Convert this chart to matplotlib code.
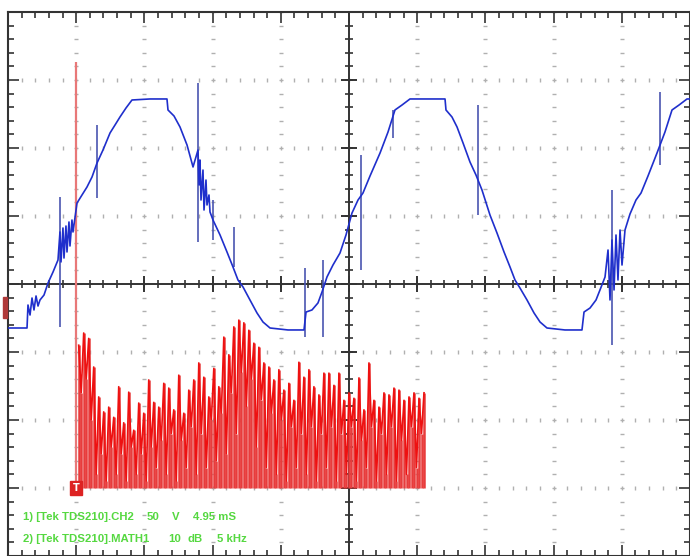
import numpy as np
import matplotlib
matplotlib.use('Agg')
import matplotlib.pyplot as plt
from matplotlib.patches import Rectangle

# CH2 trace, screen divisions (x: 0..10, y: -4..4)
ch2_x = [0.0, 0.279, 0.293, 0.323, 0.352, 0.381, 0.411, 0.440, 0.469, 0.528,
         0.587, 0.660, 0.733, 0.762, 0.777, 0.806, 0.821, 0.850, 0.865, 0.894,
         0.909, 0.938, 0.953, 1.012, 1.085, 1.158, 1.232, 1.305, 1.393, 1.496,
         1.569, 1.642, 1.730, 1.818, 2.082, 2.331, 2.346, 2.434, 2.522, 2.625,
         2.713, 2.786, 2.801, 2.815, 2.830, 2.859, 2.874, 2.903, 2.918, 2.947,
         2.962, 3.006, 3.109, 3.211, 3.299, 3.372, 3.446, 3.548, 3.651, 3.739,
         3.842, 4.106, 4.340, 4.370, 4.457, 4.545, 4.604, 4.677, 4.765, 4.868,
         4.956, 5.044, 5.132, 5.205, 5.308, 5.455, 5.572, 5.674, 5.777, 5.894,
         6.408, 6.422, 6.510, 6.584, 6.672, 6.774, 6.862, 6.950, 7.067, 7.170,
         7.273, 7.361, 7.434, 7.507, 7.610, 7.713, 7.801, 7.903, 8.167, 8.416,
         8.446, 8.534, 8.622, 8.680, 8.754, 8.798, 8.827, 8.856, 8.886, 8.915,
         8.944, 8.974, 9.003, 9.047, 9.120, 9.208, 9.282, 9.384, 9.516, 9.633,
         9.736, 9.839, 9.956, 10.0]
ch2_y = [-0.647, -0.647, -0.309, -0.456, -0.206, -0.382, -0.176, -0.324, -0.235, -0.162,
         0.015, 0.176, 0.353, 0.765, 0.324, 0.824, 0.382, 0.853, 0.471, 0.912,
         0.559, 0.941, 0.765, 1.191, 1.309, 1.426, 1.574, 1.779, 1.971, 2.221,
         2.338, 2.456, 2.588, 2.706, 2.721, 2.721, 2.559, 2.471, 2.309, 2.044,
         1.721, 1.971, 1.456, 1.824, 1.235, 1.676, 1.088, 1.529, 1.162, 1.309,
         1.059, 0.941, 0.721, 0.471, 0.250, 0.059, -0.044, -0.235, -0.426, -0.559,
         -0.647, -0.676, -0.676, -0.412, -0.382, -0.279, -0.118, 0.103, 0.279, 0.456,
         0.721, 1.044, 1.235, 1.338, 1.588, 1.926, 2.235, 2.559, 2.632, 2.721,
         2.721, 2.559, 2.456, 2.309, 2.074, 1.794, 1.603, 1.382, 1.015, 0.750,
         0.471, 0.250, 0.059, -0.059, -0.235, -0.426, -0.559, -0.647, -0.676, -0.676,
         -0.412, -0.353, -0.235, -0.088, 0.103, 0.500, -0.235, 0.647, -0.088, 0.721,
         0.059, 0.794, 0.279, 0.794, 1.029, 1.235, 1.338, 1.588, 1.926, 2.235,
         2.559, 2.632, 2.721, 2.721]

# glitches on CH2: position, bottom, top (divisions)
spike_x = [0.762, 1.305, 2.786, 3.006, 3.314, 4.355, 4.619, 5.176, 5.645, 6.891, 8.856, 9.560]
spike_lo = [-0.632, 1.265, 0.618, 0.647, 0.250, -0.779, -0.779, 0.206, 2.147, 1.015, -0.897, 1.750]
spike_hi = [1.279, 2.338, 2.956, 1.235, 0.838, 0.235, 0.353, 1.897, 2.559, 2.632, 1.382, 2.824]

# MATH1 FFT magnitude, dB above the bottom reference (10 dB/div)
fft_db = [62.6, 21, 14, 22.8, 16, 22.0, 10, 17.8, 2, 13.4,
          5, 11.2, 1, 11.9, 6, 10.4, 2, 14.9, 5, 9.6,
          1, 14.1, 6, 8.5, 2, 12.5, 5, 11.0, 1, 15.9,
          6, 12.6, 3, 11.9, 7, 15.4, 2, 14.7, 8, 11.5,
          1, 16.6, 7, 11.0, 3, 14.4, 9, 15.9, 2, 18.4,
          8, 16.3, 3, 13.4, 10, 17.6, 4, 14.9, 11, 22.2,
          5, 19.6, 14, 23.7, 8, 24.7, 17, 24.3, 12, 23.2,
          16, 21.3, 6, 20.7, 13, 18.4, 3, 17.8, 11, 15.9,
          2, 17.4, 10, 14.4, 1, 15.4, 9, 12.9, 3, 18.5,
          8, 16.3, 2, 17.4, 9, 14.9, 1, 13.7, 8, 16.9,
          3, 16.9, 9, 15.1, 1, 16.9, 8, 12.9, 2, 14.0,
          9, 13.2, 1, 16.2, 7, 11.5, 3, 18.4, 9, 12.9,
          1, 11.9, 8, 14.0, 2, 13.7, 9, 14.7, 1, 14.4,
          7, 12.9, 2, 13.4, 9, 14.0, 3, 13.2, 8, 14.0]
fft_start, fft_end = 1.0, 6.1   # divisions
fft_ref = -3.0                  # divisions

info1 = ["1) [Tek TDS210].CH2", "50", "V", "4.95 mS"]
info2 = ["2) [Tek TDS210].MATH1", "10", "dB", "5 kHz"]
info1_px = [23, 147, 172, 193]
info2_px = [23, 168, 187, 217]

W, H = 690, 556
fig = plt.figure(figsize=(W / 100, H / 100), dpi=100)
ax = fig.add_axes([8 / W, 0, 682 / W, 544 / H])
ax.set_xlim(0, 10)
ax.set_ylim(-4, 4)

# frame ticks
ax.set_xticks(np.arange(0, 11, 1))
ax.set_xticks(np.arange(0, 10.01, 0.2), minor=True)
ax.set_yticks(np.arange(-4, 5, 1))
ax.set_yticks(np.arange(-4, 4.01, 0.2), minor=True)
ax.tick_params(which='both', direction='in', top=True, right=True,
               labelbottom=False, labelleft=False, color='#333333', width=1.2)
ax.tick_params(which='major', length=8)
ax.tick_params(which='minor', length=4)
for s in ax.spines.values():
    s.set_color('#333333')
    s.set_linewidth(1.5)

# dotted graticule
dots = np.arange(0, 10.01, 0.2)
vdots = np.arange(-4, 4.01, 0.2)
for k in range(1, 10):
    if k != 5:
        ax.plot(np.full(len(vdots), k), vdots, ls='none', marker='_', ms=3,
                mew=1, color='#b0b0b0', zorder=1)
for k in range(-3, 4):
    if k != 0:
        ax.plot(dots, np.full(len(dots), k), ls='none', marker='|', ms=3,
                mew=1, color='#b0b0b0', zorder=1)

# centre cross
ax.axhline(0, color='#333333', lw=1.4, zorder=1)
ax.axvline(5, color='#333333', lw=1.4, zorder=1)
ax.plot(dots, np.zeros(len(dots)), ls='none', marker='|', ms=6, mew=1.2, color='#333333', zorder=1)
ax.plot(np.arange(0, 11), np.zeros(11), ls='none', marker='|', ms=11, mew=1.4, color='#333333', zorder=1)
ax.plot(np.full(len(vdots), 5), vdots, ls='none', marker='_', ms=6, mew=1.2, color='#333333', zorder=1)
ax.plot(np.full(9, 5), np.arange(-4, 5), ls='none', marker='_', ms=11, mew=1.4, color='#333333', zorder=1)

# FFT
fft_x = np.linspace(fft_start, fft_end, len(fft_db))
fft_y = fft_ref + np.array(fft_db) / 10
ax.vlines(fft_x[0], fft_ref, fft_y[0], color='#e87878', lw=1.6, zorder=3)
ax.vlines(fft_x[1:], fft_ref, fft_y[1:], color='#e83c3c', lw=1.8, zorder=3)
ax.plot(fft_x[1:], fft_y[1:], color='#ee1111', lw=1.2, zorder=3)

# CH2
ax.vlines(spike_x, spike_lo, spike_hi, color='#4a55b0', lw=1.2, zorder=4)
ax.plot(ch2_x, ch2_y, color='#1f2fcc', lw=1.2, zorder=5)

# trigger and reference markers
ax.text(fft_start, fft_ref, 'T', color='white', fontsize=7, fontweight='bold',
        ha='center', va='center', zorder=6,
        bbox=dict(boxstyle='square,pad=0.25', fc='#dd2222', ec='#dd2222'))
ax.add_patch(Rectangle((-0.075, -0.5), 0.06, 0.31, color='#b03a3a', clip_on=False, zorder=6))

for txt, px in zip(info1, info1_px):
    fig.text(px / W, 1 - 517 / H, txt, color='#55d840', fontsize=8.2, fontweight='bold',
             family='Liberation Sans', va='center', ha='left')
for txt, px in zip(info2, info2_px):
    fig.text(px / W, 1 - 539 / H, txt, color='#55d840', fontsize=8.2, fontweight='bold',
             family='Liberation Sans', va='center', ha='left')

fig.savefig('out.png', dpi=100, facecolor='white')
